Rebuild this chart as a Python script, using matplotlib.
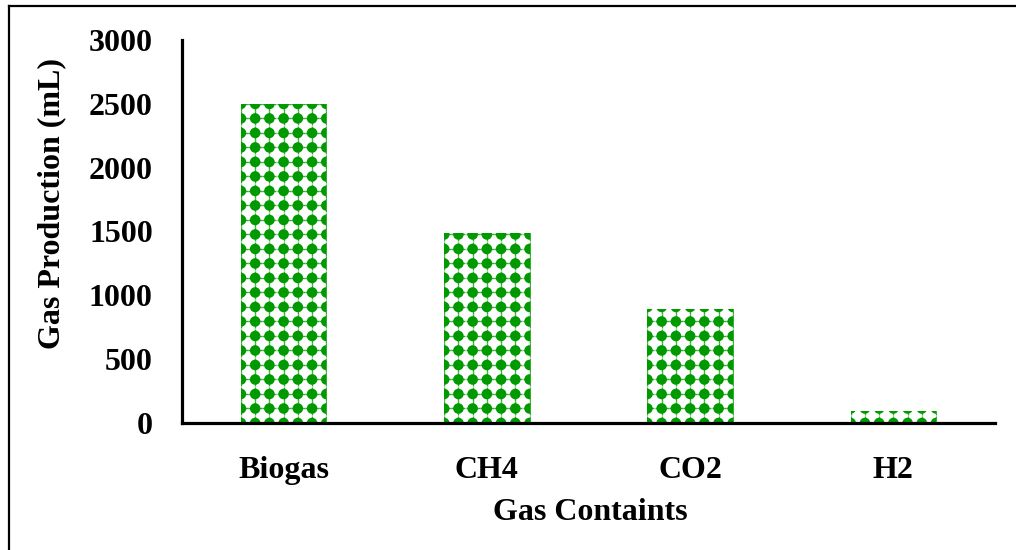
"""
Gas production by gas component, bar chart with dotted green fill.
"""
import matplotlib
matplotlib.use("Agg")
import matplotlib.pyplot as plt
from matplotlib.lines import Line2D
import numpy as np

categories = ["Biogas", "CH4", "CO2", "H2"]
production = [2495, 1490, 890, 95]
y_ticks = [0, 500, 1000, 1500, 2000, 2500, 3000]

green = "#009a00"
bar_width = 0.42
dot_pitch_x = 0.07     # data units along x
dot_pitch_y = 113.6    # data units along y

plt.rcParams["font.family"] = ["Liberation Serif", "DejaVu Serif"]
plt.rcParams["font.weight"] = "bold"

fig = plt.figure(figsize=(10.16, 5.5), dpi=100)
ax = fig.add_axes([182 / 1016, 127 / 550, 813 / 1016, 383 / 550])

xpos = np.arange(len(categories))
bars = ax.bar(xpos, production, width=bar_width, color="white",
              edgecolor="none", zorder=1)

# dotted pattern fill, clipped to each bar
for x, h, bar in zip(xpos, production, bars):
    cols = np.arange(-3, 4) * dot_pitch_x + x
    rows = np.arange(0, h + dot_pitch_y, dot_pitch_y)
    gx, gy = np.meshgrid(cols, rows)
    lines = ax.scatter(gx.ravel(), gy.ravel(), marker="+", s=110,
                       color=green, linewidths=1.0, alpha=0.8, zorder=2)
    dots = ax.scatter(gx.ravel(), gy.ravel(), marker="o", s=58,
                      color=green, edgecolors="none", zorder=3)
    lines.set_clip_path(bar)
    dots.set_clip_path(bar)

ax.set_xlim(-0.5, len(categories) - 0.5)
ax.set_ylim(0, 3000)
ax.set_xticks(xpos)
ax.set_xticklabels(categories)
ax.set_yticks(y_ticks)
ax.tick_params(axis="both", length=0, labelsize=23)
ax.tick_params(axis="y", pad=21)
ax.tick_params(axis="x", pad=24)

for side in ["top", "right"]:
    ax.spines[side].set_visible(False)
for side in ["left", "bottom"]:
    ax.spines[side].set_linewidth(2.3)
    ax.spines[side].set_zorder(5)

ax.set_xlabel("Gas Containts", fontsize=23, fontweight="bold")
ax.set_ylabel("Gas Production (mL)", fontsize=23, fontweight="bold")
ax.xaxis.set_label_coords(0.502, -0.196)
ax.yaxis.set_label_coords(-0.142, 0.574)

# outer frame (top and left edges visible in the source)
fig.add_artist(Line2D([9 / 1016, 1.0], [1 - 6 / 550, 1 - 6 / 550],
                      color="black", linewidth=1.6, transform=fig.transFigure))
fig.add_artist(Line2D([9 / 1016, 9 / 1016], [0, 1 - 6 / 550],
                      color="black", linewidth=1.6, transform=fig.transFigure))

fig.savefig("out.png", dpi=100)
